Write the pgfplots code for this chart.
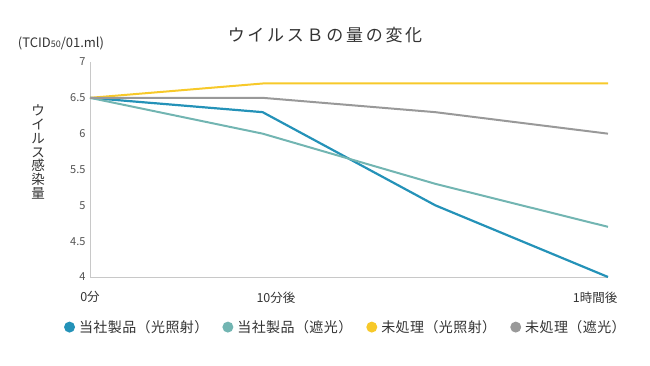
\documentclass[border=0pt]{standalone}
\usepackage{fontspec}
\setmainfont{Noto Sans CJK JP}
\newfontfamily\titlefont[LetterSpace=16]{Noto Sans CJK JP}
\newfontfamily\legfont[LetterSpace=3]{Noto Sans CJK JP}
\usepackage{pgfplots}
\pgfplotsset{compat=1.18}
\definecolor{cblue}{HTML}{2492B8}
\definecolor{cteal}{HTML}{72B5B2}
\definecolor{cyellow}{HTML}{F7C92A}
\definecolor{cgray}{HTML}{999999}
\definecolor{axgray}{HTML}{C8C8C8}
\definecolor{txt}{HTML}{333333}
\begin{document}
\begin{tikzpicture}
\useasboundingbox (0bp,0bp) rectangle (650bp,366bp);
\node[text=txt,font=\titlefont\fontsize{17bp}{19bp}\selectfont] at (325bp,331bp) {ウイルスＢの量の変化};
\node[text=txt,font=\fontsize{13bp}{15bp}\selectfont] at (61bp,323bp) {(TCID{\fontsize{9bp}{10bp}\selectfont 50}/01.ml)};
\node[text=txt,font=\fontsize{13.5bp}{15bp}\selectfont,align=center,inner sep=0pt] at (38bp,214bp) {ウ\\[-1.3bp]イ\\[-1.3bp]ル\\[-1.3bp]ス\\[-1.3bp]感\\[-1.3bp]染\\[-1.3bp]量};
\begin{axis}[
  at={(90bp,89bp)}, anchor=south west,
  scale only axis, width=518bp, height=215bp,
  xmin=0, xmax=3, ymin=4, ymax=7,
  axis x line*=bottom, axis y line*=left,
  axis line style={axgray, line width=1bp, -},
  xtick={0,1.077,2.925},
  xticklabels={0分,10分後,1時間後},
  ytick={4,4.5,5,5.5,6,6.5,7},
  /pgf/number format/assume math mode=true,
  yticklabel style={text=txt!85, font=\fontsize{11bp}{12bp}\selectfont, xshift=-1bp},
  xticklabel style={text=txt, font=\fontsize{12.5bp}{14bp}\selectfont, yshift=-11bp},
  tick style={draw=none},
  clip=false,
  legend columns=4,
  legend style={draw=none, fill=none, at={(0.494,-0.233)}, anchor=center,
    font=\legfont\fontsize{14bp}{16bp}\selectfont, text=txt,
    /tikz/every odd column/.append style={column sep=2bp},
    /tikz/every even column/.append style={column sep=12bp}},
  legend image code/.code={\fill[draw=none] (0bp,0bp) circle (5.5bp);},
]
\addplot[cblue, line width=2.2bp] coordinates {(0,6.5) (1,6.3) (2,5.0) (3,4.0)};
\addlegendentry{当社製品（光照射）}
\addplot[cteal, line width=2bp] coordinates {(0,6.5) (1,6.0) (2,5.3) (3,4.7)};
\addlegendentry{当社製品（遮光）}
\addplot[cyellow, line width=2bp] coordinates {(0,6.5) (1,6.7) (2,6.7) (3,6.7)};
\addlegendentry{未処理（光照射）}
\addplot[cgray, line width=2bp] coordinates {(0,6.5) (1,6.5) (2,6.3) (3,6.0)};
\addlegendentry{未処理（遮光）}
\end{axis}
\end{tikzpicture}
\end{document}
